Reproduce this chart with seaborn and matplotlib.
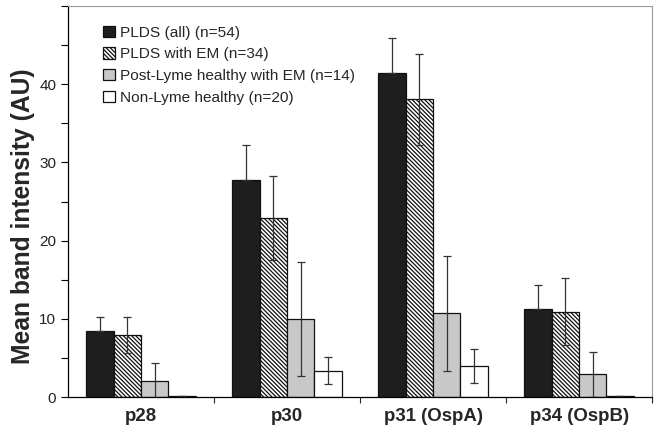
import numpy as np
import pandas as pd
import seaborn as sns
import matplotlib.pyplot as plt
from matplotlib.ticker import MultipleLocator, FixedLocator

# data
antigens = ['p28', 'p30', 'p31 (OspA)', 'p34 (OspB)']
groups = ['PLDS (all) (n=54)', 'PLDS with EM (n=34)',
          'Post-Lyme healthy with EM (n=14)', 'Non-Lyme healthy (n=20)']
pld_all = [8.5, 27.7, 41.4, 11.3]
pld_em = [8.0, 22.9, 38.1, 10.9]
postlyme = [2.1, 10.0, 10.7, 2.9]
nonlyme = [0.1, 3.4, 4.0, 0.1]
err_all = [1.8, 4.6, 4.5, 3.0]
err_em = [2.3, 5.4, 5.8, 4.3]
err_post = [2.2, 7.3, 7.4, 2.9]
err_non = [0.0, 1.7, 2.2, 0.0]

means = [pld_all, pld_em, postlyme, nonlyme]
errs = [err_all, err_em, err_post, err_non]

df = pd.DataFrame({
    'antigen': antigens * 4,
    'group': np.repeat(groups, 4),
    'mean': pld_all + pld_em + postlyme + nonlyme,
})

sns.set_theme(style='ticks')
plt.rcParams['font.family'] = ['Liberation Sans', 'DejaVu Sans']
plt.rcParams['hatch.color'] = '#505050'
plt.rcParams['hatch.linewidth'] = 0.9

fig = plt.figure(figsize=(6.57, 4.34), dpi=100)
ax = fig.add_axes([0.1035, 0.085, 0.889, 0.901])

palette = ['#1e1e1e', '#ffffff', '#c8c8c8', '#ffffff']
sns.barplot(data=df, x='antigen', y='mean', hue='group', hue_order=groups,
            order=antigens, palette=palette, saturation=1, width=0.75,
            edgecolor='#111111', linewidth=0.9, errorbar=None, ax=ax)

for p in ax.containers[1].patches:
    p.set_hatch('\\\\\\\\\\\\\\\\')

for i, (cont, e) in enumerate(zip(ax.containers, errs)):
    xs = [b.get_x() + b.get_width() / 2 for b in cont.patches]
    ys = [b.get_height() for b in cont.patches]
    e = np.array(e)
    yerr = [np.zeros_like(e), e] if i == 0 else e
    ax.errorbar(xs, ys, yerr=yerr, fmt='none', ecolor='#333333',
                elinewidth=0.9, capsize=3, capthick=0.9)

ax.set_ylim(0, 50)
ax.set_xlim(-0.5, 3.5)
ax.yaxis.set_major_locator(FixedLocator([0, 10, 20, 30, 40]))
ax.yaxis.set_minor_locator(MultipleLocator(5))
ax.xaxis.set_minor_locator(FixedLocator([0.5, 1.5, 2.5, 3.5]))
ax.tick_params(axis='y', which='both', direction='out', length=5, width=0.8,
               labelsize=11, colors='black', labelcolor='#222222')
ax.tick_params(axis='x', which='major', length=0, pad=8, labelsize=13.4)
ax.tick_params(axis='x', which='minor', length=4, width=0.8)
for lbl in ax.get_xticklabels():
    lbl.set_fontweight('bold')

ax.set_xlabel('')
ax.set_ylabel('Mean band intensity (AU)', fontsize=17.7, fontweight='bold')
ax.yaxis.set_label_coords(-0.057, 0.463)

for s in ['top', 'right']:
    ax.spines[s].set_color('#9a9a9a')
    ax.spines[s].set_linewidth(0.8)
for s in ['left', 'bottom']:
    ax.spines[s].set_color('black')
    ax.spines[s].set_linewidth(0.9)

handles = [c.patches[0] for c in ax.containers[:4]]
ax.legend(handles, groups, loc='upper left', bbox_to_anchor=(0.05, 0.966),
          frameon=False, fontsize=11.1, handlelength=0.75, handleheight=0.75,
          handletextpad=0.35, labelspacing=0.5, borderaxespad=0)

fig.savefig('out.png', dpi=100)
